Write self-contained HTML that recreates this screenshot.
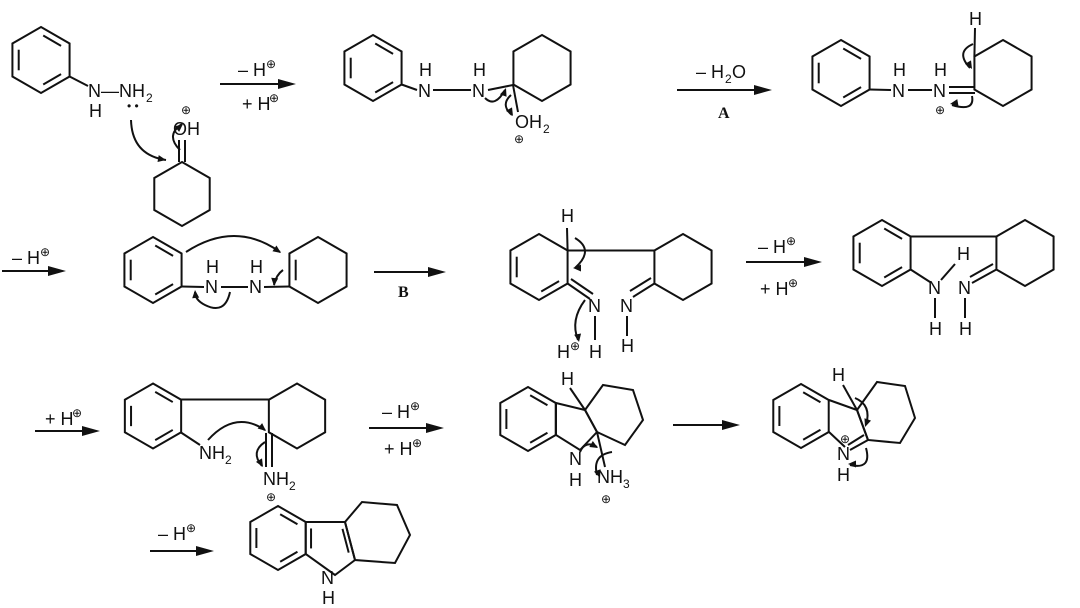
<!DOCTYPE html>
<html><head><meta charset="utf-8"><style>
html,body{margin:0;padding:0;background:#fff;}
svg{display:block;}
text{font-family:"Liberation Sans",sans-serif;font-size:18px;fill:#111;}
.s{font-size:12px;}
.b{font-family:"Liberation Serif",serif;font-weight:bold;font-size:16px;}
</style></head><body>
<svg id="g" width="1080" height="608" viewBox="0 0 1080 608" xmlns="http://www.w3.org/2000/svg">
<g id="lines" stroke="#111" stroke-width="2" fill="none"></g>
<g id="heads" fill="#111"></g>
<!-- Row 1 labels -->
<text x="88" y="97">N</text><text x="89" y="117">H</text>
<text x="101" y="97">—NH</text><text x="146" y="102" class="s">2</text>
<text x="127" y="110" class="s">• •</text>
<text x="181" y="114" class="s">⊕</text>
<text x="173" y="135">OH</text>
<text x="238" y="76">– H</text><text x="266" y="68" class="s">⊕</text>
<text x="242" y="110">+ H</text><text x="269" y="102" class="s">⊕</text>
<text x="418" y="97">N</text><text x="419" y="76">H</text>
<text x="472" y="97">N</text><text x="473" y="76">H</text>
<text x="515" y="128">OH</text><text x="543" y="133" class="s">2</text>
<text x="514" y="143" class="s">⊕</text>
<text x="696" y="78">– H</text><text x="725" y="83" class="s">2</text><text x="732" y="78">O</text>
<text x="718" y="118" class="b">A</text>
<text x="892" y="97">N</text><text x="893" y="76">H</text>
<text x="933" y="97">N</text><text x="934" y="76">H</text>
<text x="935" y="114" class="s">⊕</text>
<text x="969" y="25">H</text>
<!-- Row 2 -->
<text x="12" y="264">– H</text><text x="40" y="256" class="s">⊕</text>
<text x="205" y="293">N</text><text x="206" y="273">H</text>
<text x="249" y="293">N</text><text x="250" y="273">H</text>
<text x="398" y="297" class="b">B</text>
<text x="561" y="222">H</text>
<text x="588" y="312">N</text><text x="589" y="358">H</text>
<text x="557" y="358">H</text><text x="570" y="350" class="s">⊕</text>
<text x="620" y="312">N</text><text x="621" y="352">H</text>
<text x="758" y="253">– H</text><text x="786" y="245" class="s">⊕</text>
<text x="760" y="295">+ H</text><text x="788" y="287" class="s">⊕</text>
<text x="957" y="260">H</text>
<text x="928" y="294">N</text><text x="929" y="335">H</text>
<text x="958" y="294">N</text><text x="959" y="335">H</text>
<!-- Row 3 -->
<text x="45" y="425">+ H</text><text x="72" y="417" class="s">⊕</text>
<text x="199" y="459">NH</text><text x="225" y="464" class="s">2</text>
<text x="263" y="485">NH</text><text x="289" y="490" class="s">2</text>
<text x="266" y="501" class="s">⊕</text>
<text x="382" y="418">– H</text><text x="410" y="410" class="s">⊕</text>
<text x="384" y="455">+ H</text><text x="412" y="447" class="s">⊕</text>
<text x="561" y="385">H</text>
<text x="569" y="465">N</text><text x="569" y="486">H</text>
<text x="597" y="483">NH</text><text x="623" y="488" class="s">3</text>
<text x="601" y="503" class="s">⊕</text>
<text x="832" y="381">H</text>
<text x="837" y="460">N</text><text x="837" y="481">H</text>
<text x="840" y="443" class="s">⊕</text>
<!-- Row 4 -->
<text x="321" y="584">N</text><text x="322" y="604">H</text>
<text x="158" y="540">– H</text><text x="186" y="532" class="s">⊕</text>
</svg>
<script>
var L=document.getElementById('lines'),Hd=document.getElementById('heads'),NS='http://www.w3.org/2000/svg';
function el(p,t,a){var e=document.createElementNS(NS,t);for(var k in a)e.setAttribute(k,a[k]);p.appendChild(e);return e;}
function ln(x1,y1,x2,y2){el(L,'line',{x1:x1,y1:y1,x2:x2,y2:y2});}
function innerLine(a,b,c){var f=0.78;var ax=c[0]+(a[0]-c[0])*f,ay=c[1]+(a[1]-c[1])*f,bx=c[0]+(b[0]-c[0])*f,by=c[1]+(b[1]-c[1])*f;
 var dx=bx-ax,dy=by-ay;ln(ax+dx*0.1,ay+dy*0.1,bx-dx*0.1,by-dy*0.1);}
function hex(cx,cy,r,dbl){var v=[];for(var i=0;i<6;i++){var a=(-90+60*i)*Math.PI/180;v.push([cx+r*Math.cos(a),cy+r*Math.sin(a)]);}
 el(L,'polygon',{points:v.map(function(p){return p.join(',')}).join(' ')});
 (dbl||[]).forEach(function(i){innerLine(v[i],v[(i+1)%6],[cx,cy]);});return v;}
function poly(v,dbl){el(L,'polygon',{points:v.map(function(p){return p.join(',')}).join(' ')});
 var cx=0,cy=0;v.forEach(function(p){cx+=p[0]/v.length;cy+=p[1]/v.length;});(dbl||[]).forEach(function(i){innerLine(v[i],v[(i+1)%v.length],[cx,cy]);});}
function arrow(x1,x2,y){ln(x1,y,x2-14,y);el(Hd,'polygon',{points:(x2-18)+','+(y-5)+' '+x2+','+y+' '+(x2-18)+','+(y+5)});}
function curve(d,hx,hy,ang){el(L,'path',{d:d});var a=ang*Math.PI/180,c=Math.cos(a),s=Math.sin(a);
 el(Hd,'polygon',{points:hx+','+hy+' '+(hx-8*c+3.5*s)+','+(hy-8*s-3.5*c)+' '+(hx-8*c-3.5*s)+','+(hy-8*s+3.5*c)});}
// Row 1
hex(41,60,33,[0,2,4]);ln(69.6,76.5,88,86);
hex(182,194,32);ln(179,162,179,140);ln(185,162,185,140);
curve('M131,120 Q132,155 166,160',166,160,10);
curve('M180,150 Q165,135 182,124',183,124,-40);
arrow(220,296,84);
hex(373,68,33,[0,2,4]);ln(401.6,84.5,417,90);ln(433,90,471,90);ln(488,90,513,85);
hex(542,68,33);ln(513,85,518,112);
curve('M485,98 Q495,108 505,90',506,88,-70);
curve('M511,95 Q500,105 512,115',513,116,60);
arrow(677,772,90);
hex(841,73,33,[0,2,4]);ln(869.6,89.5,891,90);ln(908,90,932,90);
ln(949,87,975,87);ln(949,93,975,93);
hex(1003,73,33);ln(974.4,56.5,975,28);
curve('M973,44 Q955,52 970,68',972,69,60);
curve('M972,96 Q975,112 952,105',950,104,170);
// Row 2
arrow(2,66,271);
hex(153,270,33,[0,2,4]);ln(181.6,286.5,204,287);ln(221,287,248,287);ln(264,287,289.4,286.5);
hex(318,270,33);innerLine([289.4,253.5],[289.4,286.5],[318,270]);
curve('M186,252 Q235,220 280,252',281,253,35);
curve('M230,292 Q225,315 205,305 Q195,300 195,292',195,290,-95);
curve('M283,270 Q276,275 274,285',274,286,95);
arrow(374,446,272);
hex(539,267,33,[2,4]);ln(567.6,250.5,655,250.5);ln(567.6,250.5,567,228);
ln(567.6,283.5,590,299);ln(571,279,593,294);ln(595,316,595,340);
curve('M575,238 Q595,250 575,268',573,268,180);
curve('M585,300 Q570,320 578,340',579,342,80);
hex(683,267,33);ln(654.4,283.5,633,297);ln(651,278,630,291);ln(627,316,627,336);
arrow(746,822,262);
hex(882,253,33,[0,2,4]);ln(910.6,236.5,996.4,236.5);ln(910.6,269.5,930,282);ln(941,280,955,264);ln(935,298,935,318);
hex(1025,253,33);ln(996.4,269.5,972,283);ln(993,264,970,277);ln(965,298,965,318);
// Row 3
arrow(35,100,431);
hex(153,416,32.5,[0,2,4]);ln(181,399.5,269,399.5);ln(181,432.5,200,445);
hex(297,416,32.5);ln(266,433,266,467);ln(272,433,272,467);
curve('M208,440 Q235,410 265,430',266,431,40);
curve('M265,442 Q250,452 262,466',263,467,60);
arrow(369,444,428);
hex(528,419,32,[0,2,4]);poly([[556,403],[585,410],[597,432],[580,450],[556,435]]);
poly([[585,410],[603,385],[633,390],[643,420],[625,445],[597,432]]);
ln(585,410,570,388);ln(597,432,605,467);
curve('M580,452 Q585,440 597,447',598,448,30);
curve('M612,452 Q592,455 597,475',600,478,70);
arrow(673,740,425);
hex(801,416,32,[0,2,4]);
ln(829,400,857,410);ln(857,410,868,440);ln(829,432,845,447);ln(868,440,850,450);ln(864,435,848,445);
poly([[857,410],[877,382],[905,386],[915,418],[900,443],[868,440]]);ln(857,410,843,385);
curve('M855,398 Q872,405 866,425',865,427,110);
curve('M866,448 Q872,470 850,465',848,464,180);
// Row 4
arrow(150,214,551);
hex(278,538,32,[0,2,4]);
poly([[305.7,522],[345,522],[355,560],[335,575],[305.7,554]]);
innerLine([305.7,522],[305.7,554],[330,540]);innerLine([345,522],[355,560],[330,540]);
poly([[345,522],[362,502],[397,505],[410,535],[395,563],[355,560]]);
</script>
</body></html>
